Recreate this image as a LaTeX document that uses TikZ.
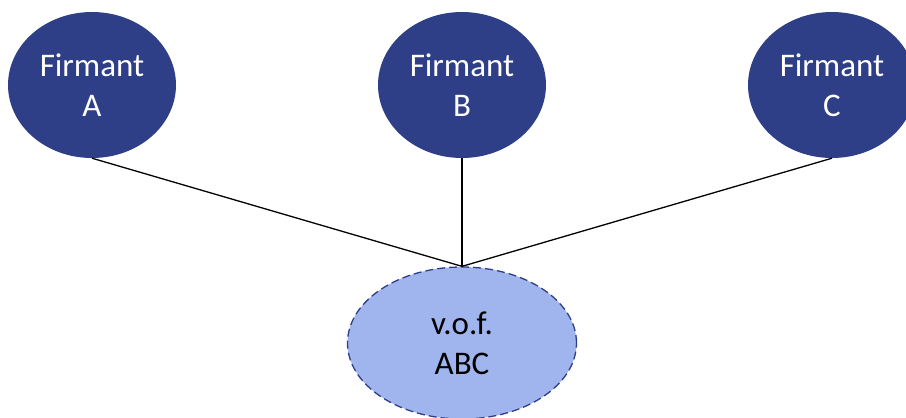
\documentclass[tikz,border=0pt]{standalone}
\usepackage{fontspec}
\setmainfont{Carlito}
\usetikzlibrary{shapes.geometric}
\definecolor{firmblue}{RGB}{46,62,135}
\definecolor{vofblue}{RGB}{160,181,237}

\begin{document}
\begin{tikzpicture}[x=1pt,y=-1pt,
    firmant/.style={ellipse, fill=firmblue, text=white, minimum width=168pt,
        minimum height=146pt, inner sep=0pt, align=center,
        font=\fontsize{33}{40}\selectfont},
    vof/.style={ellipse, fill=vofblue, draw=firmblue, line width=1.3pt,
        dash pattern=on 8pt off 4pt, minimum width=229pt, minimum height=152pt,
        inner sep=0pt, align=center, font=\fontsize{33}{40}\selectfont}]

    \useasboundingbox (0,0) rectangle (906,418);

    \node[firmant] (A) at (92,85) {Firmant\\A};
    \node[firmant] (B) at (462,85) {Firmant\\B};
    \node[firmant] (C) at (832,85) {Firmant\\C};
    \node[vof] (V) at (462,343) {v.o.f.\\ABC};

    \draw[line width=1.3pt] (A.south) -- (V.north);
    \draw[line width=1.3pt] (B.south) -- (V.north);
    \draw[line width=1.3pt] (C.south) -- (V.north);
  \end{tikzpicture}
\end{document}
